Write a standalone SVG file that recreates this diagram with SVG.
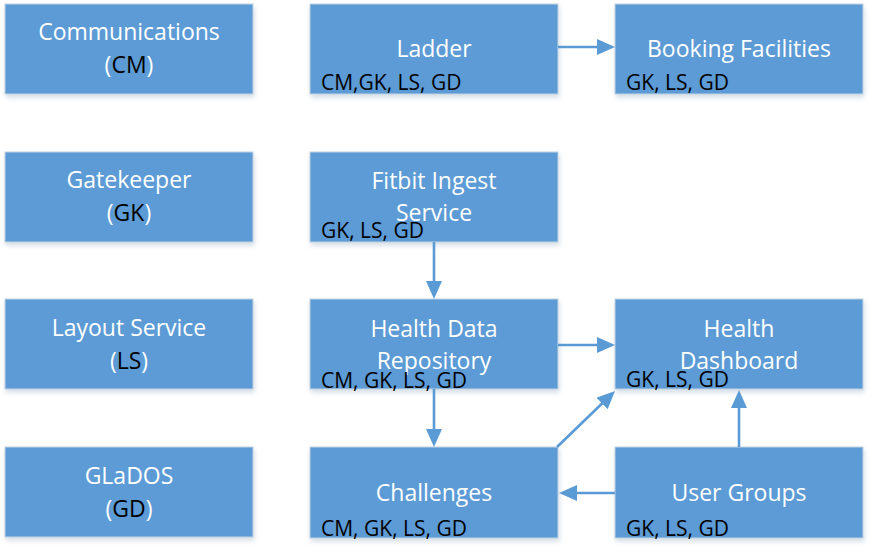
<svg xmlns="http://www.w3.org/2000/svg" width="873" height="549" viewBox="0 0 873 549">
<style>
.box{fill:#5b9bd5;stroke:#c4d3e2;stroke-width:1}
.t{font-family:"Open Sans","Liberation Sans",sans-serif;font-size:23px;fill:#ffffff;text-anchor:middle}
.s{font-family:"Open Sans","Liberation Sans",sans-serif;font-size:21px;fill:#000000}
.k{fill:#000000}
.c{stroke:#5b9bd5;stroke-width:2.6;fill:none}
</style>
<defs>
<filter id="sh" x="-5%" y="-5%" width="115%" height="125%">
<feDropShadow dx="1" dy="3" stdDeviation="2.5" flood-color="#9fb4c8" flood-opacity="0.45"/>
</filter>
<marker id="ah" markerUnits="userSpaceOnUse" markerWidth="20" markerHeight="18" viewBox="0 0 20 18" refX="1" refY="8" orient="auto">
<path d="M0,0 L18,8 L0,16 z" fill="#5b9bd5"/>
</marker>
</defs>
<g id="communications"><rect class="box" filter="url(#sh)" x="5" y="4" width="248" height="90"/><text class="t" x="129" y="40">Communications</text><text class="t" x="129" y="73">(<tspan class="k">CM</tspan>)</text></g>
<g id="gatekeeper"><rect class="box" filter="url(#sh)" x="5" y="152" width="248" height="90"/><text class="t" x="129" y="188">Gatekeeper</text><text class="t" x="129" y="221">(<tspan class="k">GK</tspan>)</text></g>
<g id="layout-service"><rect class="box" filter="url(#sh)" x="5" y="299" width="248" height="90"/><text class="t" x="129" y="336">Layout Service</text><text class="t" x="129" y="369">(<tspan class="k">LS</tspan>)</text></g>
<g id="glados"><rect class="box" filter="url(#sh)" x="5" y="447" width="248" height="90"/><text class="t" x="129" y="484">GLaDOS</text><text class="t" x="129" y="517">(<tspan class="k">GD</tspan>)</text></g>
<g id="ladder"><rect class="box" filter="url(#sh)" x="310" y="4" width="248" height="90"/><text class="t" x="434" y="57">Ladder</text><text class="s" x="321" y="90">CM,GK, LS, GD</text></g>
<g id="booking"><rect class="box" filter="url(#sh)" x="615" y="4" width="248" height="90"/><text class="t" x="739" y="57">Booking Facilities</text><text class="s" x="626" y="90">GK, LS, GD</text></g>
<g id="fitbit"><rect class="box" filter="url(#sh)" x="310" y="152" width="248" height="90"/><text class="t" x="434" y="189">Fitbit Ingest</text><text class="t" x="434" y="221">Service</text><text class="s" x="321" y="238">GK, LS, GD</text></g>
<g id="health-data-repository"><rect class="box" filter="url(#sh)" x="310" y="299" width="248" height="90"/><text class="t" x="434" y="337">Health Data</text><text class="t" x="434" y="369">Repository</text><text class="s" x="321" y="388">CM, GK, LS, GD</text></g>
<g id="health-dashboard"><rect class="box" filter="url(#sh)" x="615" y="299" width="248" height="90"/><text class="t" x="739" y="337">Health</text><text class="t" x="739" y="369">Dashboard</text><text class="s" x="626" y="387">GK, LS, GD</text></g>
<g id="challenges"><rect class="box" filter="url(#sh)" x="310" y="447" width="248" height="91"/><text class="t" x="434" y="501">Challenges</text><text class="s" x="321" y="536">CM, GK, LS, GD</text></g>
<g id="user-groups"><rect class="box" filter="url(#sh)" x="615" y="447" width="248" height="91"/><text class="t" x="739" y="501">User Groups</text><text class="s" x="626" y="536">GK, LS, GD</text></g>
<g id="connectors">
<line class="c" x1="558" y1="47" x2="598" y2="47" marker-end="url(#ah)"/>
<line class="c" x1="434" y1="242" x2="434" y2="282" marker-end="url(#ah)"/>
<line class="c" x1="558" y1="345" x2="598" y2="345" marker-end="url(#ah)"/>
<line class="c" x1="434" y1="389" x2="434" y2="430" marker-end="url(#ah)"/>
<line class="c" x1="557" y1="447" x2="602.8" y2="402.8" marker-end="url(#ah)"/>
<line class="c" x1="739" y1="447" x2="739" y2="407" marker-end="url(#ah)"/>
<line class="c" x1="615" y1="493" x2="576" y2="493" marker-end="url(#ah)"/>
</g>
</svg>
